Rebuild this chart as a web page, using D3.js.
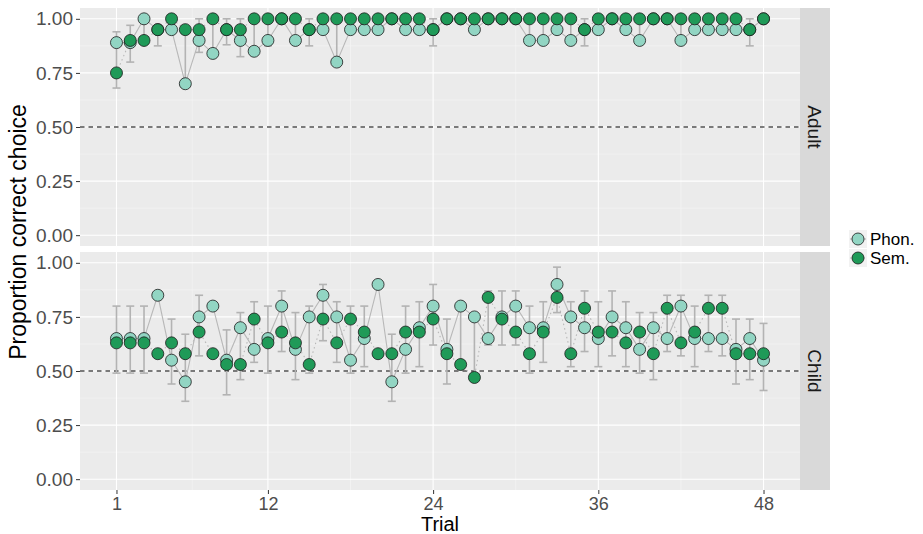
<!DOCTYPE html>
<html>
<head>
<meta charset="utf-8">
<script src="https://cdn.jsdelivr.net/npm/d3@7/dist/d3.min.js"></script>
<style>
body { margin: 0; background: #fff; }
text { font-family: "Liberation Sans", Arial, sans-serif; }
</style>
</head>
<body>
<div id="canvas"></div>
<script>
const trials = d3.range(1, 49);
const panelNames = ["Adult", "Child"];
const seriesNames = ["Phon.", "Sem."];
const xTicks = [1, 12, 24, 36, 48];
const yTicks = [0, 0.25, 0.5, 0.75, 1];

const adultPhon = [0.89, 0.89, 1, 0.95, 0.95, 0.70, 0.90, 0.84, 0.95, 0.90,
    0.85, 0.90, 1, 0.90, 0.95, 0.95, 0.80, 0.95, 0.95, 0.95,
    1, 0.95, 0.95, 0.95, 1, 1, 0.95, 1, 1, 1,
    0.90, 0.90, 0.95, 0.90, 0.95, 0.95, 1, 0.95, 0.90, 1,
    1, 0.90, 0.95, 0.95, 0.95, 0.95, 0.95, 1];
const adultSem = [0.75, 0.90, 0.90, 0.95, 1, 0.95, 0.95, 1, 0.95, 0.95,
    1, 1, 1, 1, 0.95, 1, 1, 1, 1, 1,
    1, 1, 1, 0.95, 1, 1, 1, 1, 1, 1,
    1, 1, 1, 1, 0.95, 1, 1, 1, 1, 1,
    1, 1, 1, 1, 1, 1, 0.95, 1];
const adultLo = [0.68, 0.80, 0.90, 0.875, 0.95, 0.70, 0.845, 0.84, 0.88, 0.825,
    0.85, 0.875, null, 0.90, 0.875, 0.95, 0.80, 0.95, 0.95, 0.95,
    null, 0.95, 0.95, 0.875, null, null, 0.95, null, null, null,
    0.90, 0.90, 0.95, 0.90, 0.875, 0.95, null, 0.95, 0.90, null,
    null, 0.90, 0.95, 0.95, 0.95, 0.95, 0.875, null];
const adultHi = [0.94, 0.97, 1, 0.96, 1, 0.95, 1, 1, 1, 1,
    1, 1, null, 1, 1, 1, 1, 1, 1, 1,
    null, 1, 1, 1, null, null, 1, null, null, null,
    1, 1, 1, 1, 1, 1, null, 1, 1, null,
    null, 1, 1, 1, 1, 1, 1, null];

const childPhon = [0.65, 0.65, 0.65, 0.85, 0.55, 0.45, 0.75, 0.80, 0.55, 0.70,
    0.60, 0.65, 0.80, 0.60, 0.75, 0.85, 0.75, 0.55, 0.65, 0.90,
    0.45, 0.60, 0.70, 0.80, 0.60, 0.80, 0.75, 0.65, 0.75, 0.80,
    0.70, 0.70, 0.90, 0.75, 0.70, 0.65, 0.75, 0.70, 0.60, 0.70,
    0.65, 0.80, 0.65, 0.65, 0.65, 0.60, 0.65, 0.55];
const childSem = [0.63, 0.63, 0.63, 0.58, 0.63, 0.58, 0.68, 0.58, 0.53, 0.53,
    0.74, 0.63, 0.68, 0.63, 0.53, 0.74, 0.63, 0.74, 0.68, 0.58,
    0.58, 0.68, 0.68, 0.74, 0.58, 0.53, 0.47, 0.84, 0.74, 0.68,
    0.58, 0.68, 0.84, 0.58, 0.79, 0.68, 0.68, 0.63, 0.68, 0.58,
    0.79, 0.63, 0.68, 0.79, 0.79, 0.58, 0.58, 0.58];
const childLo = [0.49, 0.49, 0.49, null, 0.44, 0.36, 0.57, null, 0.39, 0.46,
    0.54, 0.49, 0.59, 0.46, 0.49, 0.64, 0.54, 0.49, 0.52, null,
    0.36, 0.49, 0.52, 0.62, 0.44, 0.53, 0.47, 0.62, 0.62, 0.62,
    0.49, 0.54, 0.77, 0.52, 0.59, 0.52, 0.57, 0.52, 0.49, 0.46,
    0.59, 0.57, 0.52, 0.59, 0.57, 0.44, 0.46, 0.41];
const childHi = [0.80, 0.80, 0.80, null, 0.74, 0.67, 0.85, null, 0.69, 0.77,
    0.82, 0.80, 0.87, 0.77, 0.80, 0.90, 0.82, 0.80, 0.80, null,
    0.67, 0.80, 0.82, 0.90, 0.74, 0.80, 0.75, 0.87, 0.87, 0.87,
    0.80, 0.82, 0.98, 0.82, 0.87, 0.82, 0.87, 0.82, 0.77, 0.77,
    0.85, 0.85, 0.80, 0.85, 0.85, 0.74, 0.74, 0.72];

const panelData = [
    { name: panelNames[0], series: [adultPhon, adultSem], lo: adultLo, hi: adultHi },
    { name: panelNames[1], series: [childPhon, childSem], lo: childLo, hi: childHi }
];
const fills = ["#92d5c3", "#1f9a58"];

const width = 923;
const height = 534;
const left = 80, right = 800, stripW = 30;
const panelH = 238;
const panelTops = [8, 252];

const svg = d3.select("#canvas").append("svg")
    .attr("width", width)
    .attr("height", height);

const x = d3.scaleLinear().domain([1 - 2.65, 48 + 2.65]).range([left, right]);
const y = d3.scaleLinear().domain([-0.05, 1.05]).range([panelH, 0]);

panelData.forEach((p, i) => {
    const g = svg.append("g").attr("transform", `translate(0,${panelTops[i]})`);

    g.append("rect")
        .attr("x", left).attr("y", 0)
        .attr("width", right - left).attr("height", panelH)
        .attr("fill", "#ebebeb");

    // minor grid
    g.selectAll(".hminor").data([0.125, 0.375, 0.625, 0.875]).enter().append("line")
        .attr("x1", left).attr("x2", right)
        .attr("y1", d => y(d)).attr("y2", d => y(d))
        .attr("stroke", "#f7f7f7").attr("stroke-width", 0.6);
    g.selectAll(".vminor").data([6.5, 18, 30, 42]).enter().append("line")
        .attr("x1", d => x(d)).attr("x2", d => x(d))
        .attr("y1", 0).attr("y2", panelH)
        .attr("stroke", "#f7f7f7").attr("stroke-width", 0.6);
    // major grid
    g.selectAll(".hmajor").data(yTicks).enter().append("line")
        .attr("x1", left).attr("x2", right)
        .attr("y1", d => y(d)).attr("y2", d => y(d))
        .attr("stroke", "#fff").attr("stroke-width", 1.1);
    g.selectAll(".vmajor").data(xTicks).enter().append("line")
        .attr("x1", d => x(d)).attr("x2", d => x(d))
        .attr("y1", 0).attr("y2", panelH)
        .attr("stroke", "#fff").attr("stroke-width", 1.1);

    g.append("line")
        .attr("x1", left).attr("x2", right)
        .attr("y1", y(0.5)).attr("y2", y(0.5))
        .attr("stroke", "#000").attr("stroke-width", 1.1)
        .attr("stroke-dasharray", "4.5,4");

    const bars = trials.map((t, j) => ({ t: t, lo: p.lo[j], hi: p.hi[j] })).filter(d => d.lo !== null);
    const eb = g.selectAll(".eb").data(bars).enter().append("g")
        .attr("stroke", "#b3b3b3").attr("stroke-width", 1.6);
    eb.append("line")
        .attr("x1", d => x(d.t)).attr("x2", d => x(d.t))
        .attr("y1", d => y(d.lo)).attr("y2", d => y(d.hi));
    eb.append("line")
        .attr("x1", d => x(d.t) - 4).attr("x2", d => x(d.t) + 4)
        .attr("y1", d => y(d.lo)).attr("y2", d => y(d.lo));
    eb.append("line")
        .attr("x1", d => x(d.t) - 4).attr("x2", d => x(d.t) + 4)
        .attr("y1", d => y(d.hi)).attr("y2", d => y(d.hi));

    const line = d3.line().x((d, j) => x(trials[j])).y(d => y(d));
    g.append("path").datum(p.series[0])
        .attr("d", line).attr("fill", "none")
        .attr("stroke", "#b8b8b8").attr("stroke-width", 1.1);
    g.append("path").datum(p.series[1])
        .attr("d", line).attr("fill", "none")
        .attr("stroke", "#b8b8b8").attr("stroke-width", 1.1)
        .attr("stroke-dasharray", "1.5,3");

    p.series.forEach((s, k) => {
        g.selectAll(".pt" + k).data(s).enter().append("circle")
            .attr("cx", (d, j) => x(trials[j]))
            .attr("cy", d => y(d))
            .attr("r", 6)
            .attr("fill", fills[k])
            .attr("stroke", "#1a1a1a").attr("stroke-width", 0.8);
    });

    // strip
    g.append("rect")
        .attr("x", right).attr("y", 0)
        .attr("width", stripW).attr("height", panelH)
        .attr("fill", "#d9d9d9");
    g.append("text")
        .attr("transform", `translate(${right + stripW / 2},${panelH / 2}) rotate(90)`)
        .attr("text-anchor", "middle")
        .attr("dy", "0.35em")
        .attr("font-size", 19)
        .attr("fill", "#1a1a1a")
        .text(p.name);

    const yAxis = g.append("g")
        .attr("transform", `translate(${left},0)`)
        .call(d3.axisLeft(y).tickValues(yTicks).tickFormat(d3.format(".2f")).tickSize(4).tickPadding(3));
    yAxis.select(".domain").remove();
    yAxis.selectAll("line").attr("stroke", "#333");
    yAxis.selectAll("text").attr("font-size", 19).attr("fill", "#4d4d4d")
        .style("font-family", "'Liberation Sans', Arial, sans-serif");

    if (i === 1) {
        const xAxis = g.append("g")
            .attr("transform", `translate(0,${panelH})`)
            .call(d3.axisBottom(x).tickValues(xTicks).tickSize(4).tickPadding(3));
        xAxis.select(".domain").remove();
        xAxis.selectAll("line").attr("stroke", "#333");
        xAxis.selectAll("text").attr("font-size", 18).attr("fill", "#4d4d4d")
            .style("font-family", "'Liberation Sans', Arial, sans-serif");
    }
});

svg.append("text")
    .attr("transform", `translate(26,232) rotate(-90)`)
    .attr("text-anchor", "middle")
    .attr("font-size", 23)
    .attr("fill", "#000")
    .text("Proportion correct choice");

svg.append("text")
    .attr("x", 440)
    .attr("y", 531)
    .attr("text-anchor", "middle")
    .attr("font-size", 20)
    .attr("fill", "#000")
    .text("Trial");

// legend
const legend = svg.append("g").attr("transform", "translate(849,230)");
seriesNames.forEach((name, k) => {
    const lg = legend.append("g").attr("transform", `translate(0,${k * 19})`);
    lg.append("rect").attr("width", 18).attr("height", 18).attr("fill", "#f2f2f2");
    lg.append("line").attr("x1", 1).attr("x2", 17).attr("y1", 9).attr("y2", 9)
        .attr("stroke", "#b8b8b8").attr("stroke-width", 1.1)
        .attr("stroke-dasharray", k === 1 ? "1.5,3" : null);
    lg.append("circle").attr("cx", 9).attr("cy", 9).attr("r", 6)
        .attr("fill", fills[k]).attr("stroke", "#1a1a1a").attr("stroke-width", 0.8);
    lg.append("text").attr("x", 21).attr("y", 9).attr("dy", "0.35em")
        .attr("font-size", 17).attr("fill", "#000").text(name);
});
</script>
</body>
</html>
